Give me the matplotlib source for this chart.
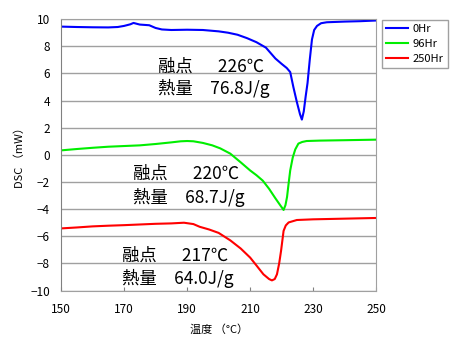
import matplotlib
matplotlib.use("Agg")
import matplotlib.pyplot as plt

plt.rcParams["font.family"] = ["Noto Sans CJK JP", "DejaVu Sans"]

# DSC curves after aging
temp_0 = [150, 155, 160, 165, 168, 170, 172, 173, 175, 178, 180, 182, 185, 190, 195, 200,
          203, 206, 209, 212, 215, 218, 220, 221.6, 222.7, 223.7, 224.8, 225.8, 226.4, 227.0,
          227.6, 228.2, 228.9, 229.6, 230.3, 231.2, 232.5, 234.3, 240, 245, 250]
dsc_0 = [9.45, 9.42, 9.4, 9.39, 9.42, 9.5, 9.62, 9.72, 9.6, 9.55, 9.35, 9.24, 9.2, 9.22, 9.2, 9.1,
         9.0, 8.85, 8.6, 8.3, 7.9, 7.1, 6.7, 6.4, 6.1, 5.0, 3.9, 3.0, 2.6, 3.2,
         4.3, 5.3, 7.0, 8.5, 9.2, 9.5, 9.7, 9.77, 9.82, 9.85, 9.9]

temp_96 = [150, 155, 160, 165, 170, 175, 180, 185, 188, 190, 192, 195, 198, 200.5, 203.7,
           207, 210, 212, 214, 216, 218, 219.5, 220.6, 221.2, 221.7, 222.2, 222.7, 223.5,
           224.3, 225.3, 226.5, 227.9, 232, 240, 250]
dsc_96 = [0.33, 0.43, 0.52, 0.6, 0.65, 0.7, 0.8, 0.92, 1.0, 1.02, 1.0, 0.88, 0.7, 0.48, 0.09,
          -0.55, -1.15, -1.5, -1.9, -2.5, -3.2, -3.7, -4.06, -3.7, -3.1, -2.1, -1.15, -0.2,
          0.4, 0.83, 0.95, 1.02, 1.05, 1.08, 1.12]

temp_250 = [150, 155, 160, 165, 170, 175, 180, 185, 189, 192, 194, 197, 200, 203.7, 207,
            210, 212, 214.2, 216, 216.9, 217.8, 218.5, 219.2, 219.8, 220.6, 221.3, 222.2,
            224.8, 230, 240, 250]
dsc_250 = [-5.42, -5.35, -5.27, -5.22, -5.18, -5.13, -5.08, -5.05, -5.0, -5.1, -5.3, -5.5,
           -5.75, -6.3, -6.9, -7.57, -8.15, -8.8, -9.15, -9.25, -9.15, -8.8, -8.0, -7.07,
           -5.6, -5.2, -4.98, -4.8, -4.75, -4.7, -4.65]

series_names = ["0Hr", "96Hr", "250Hr"]
melt_points = ["226℃", "220℃", "217℃"]
heat_values = ["76.8J/g", "68.7J/g", "64.0J/g"]

fig = plt.figure(figsize=(4.55, 3.48), dpi=100)
ax = fig.add_axes([0.134, 0.165, 0.693, 0.780])

ax.plot(temp_0, dsc_0, color="#0000ff", lw=1.5, label=series_names[0])
ax.plot(temp_96, dsc_96, color="#00ee00", lw=1.5, label=series_names[1])
ax.plot(temp_250, dsc_250, color="#ff0000", lw=1.5, label=series_names[2])

ax.set_xlim(150, 250)
ax.set_ylim(-10, 10)
ax.set_xticks(range(150, 251, 20))
ax.set_yticks(range(-10, 11, 2))
ax.yaxis.grid(True, color="#a0a0a0", lw=1)
ax.set_axisbelow(True)
ax.tick_params(axis="x", direction="in", length=3, color="#808080", labelsize=8.5, pad=9)
ax.tick_params(axis="y", length=0, labelsize=8.5, pad=8)
for side in ["top", "right", "bottom"]:
    ax.spines[side].set_color("#a0a0a0")
ax.spines["left"].set_color("#808080")

ax.set_xlabel("温度 （°C）", fontsize=8, labelpad=6)
ax.set_ylabel("DSC （mW）", fontsize=8, labelpad=4)

# melting point / heat of fusion notes
note_pos = [(158, 67, 88), (133, 174, 197), (122, 256, 278)]
for (px, y1, y2), mp, hv in zip(note_pos, melt_points, heat_values):
    fig.text(px / 455, 1 - y1 / 348, "融点　  " + mp, fontsize=12.5, va="center")
    fig.text(px / 455, 1 - y2 / 348, "熱量　" + hv, fontsize=12.5, va="center")

leg = fig.legend(loc="upper left", bbox_to_anchor=(0.840, 0.943), borderaxespad=0,
                 fontsize=8, fancybox=False, edgecolor="#a0a0a0", framealpha=1,
                 handlelength=2.0, handletextpad=0.4, borderpad=0.35, labelspacing=0.45)
leg.get_frame().set_linewidth(1)

fig.savefig("out.png", dpi=100)
